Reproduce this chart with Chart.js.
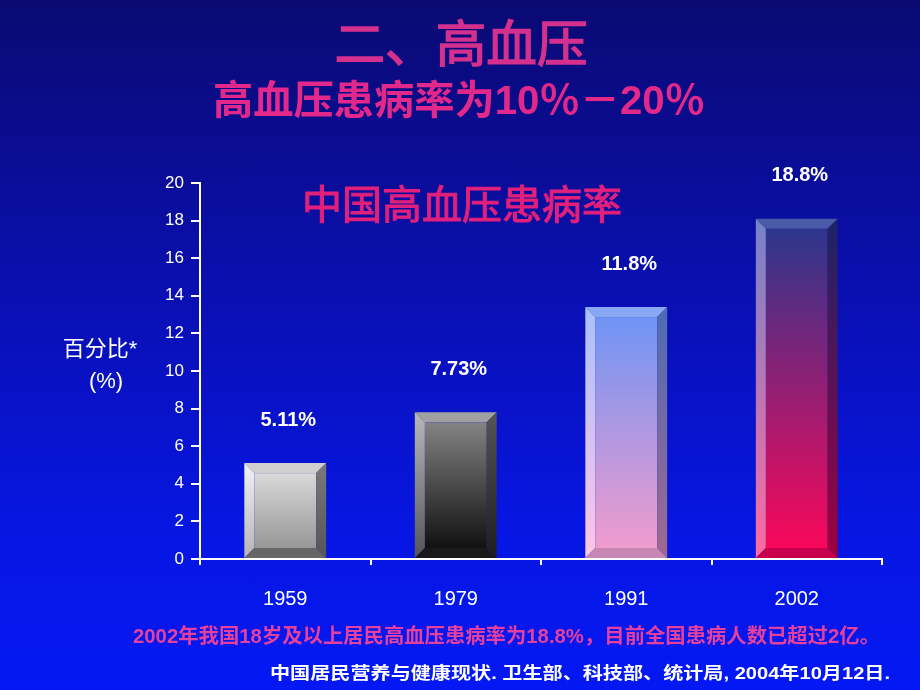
<!DOCTYPE html>
<html><head><meta charset="utf-8">
<script src="https://cdn.jsdelivr.net/npm/chart.js@4/dist/chart.umd.min.js"></script>
<style>
html,body{margin:0;padding:0;}
body{width:920px;height:690px;background:linear-gradient(180deg,#0a0a72 0%,#0a0fae 40%,#0716e0 75%,#0418f4 100%);overflow:hidden;}
canvas{display:block;}
</style></head>
<body><canvas id="c" width="920" height="690"></canvas>
<script>
// ---- data ----
const years = ["1959", "1979", "1991", "2002"];
const barHeights = [5.1, 7.8, 13.4, 18.1];
const valueLabels = ["5.11%", "7.73%", "11.8%", "18.8%"];
const yMin = 0, yMax = 20, yStep = 2;
const titleText = "二、高血压";
const subtitleText = "高血压患病率为10％－20％";
const innerTitle = "中国高血压患病率";
const yTitleLines = ["百分比*", "(%)"];
const noteText = "2002年我国18岁及以上居民高血压患病率为18.8%，目前全国患病人数已超过2亿。";
const sourceText = "中国居民营养与健康现状. 卫生部、科技部、统计局, 2004年10月12日.";

// ---- styles ----
const FONT = '"Liberation Sans", Arial, "Noto Sans CJK SC", sans-serif';
const barStyles = [
  {faceTop:"#e2e2e2", faceBot:"#8e8e8e", top:"#cfcfcf", leftTop:"#f2f2f2", leftBot:"#b4b4b4", rightTop:"#7a7a7a", rightBot:"#555555", bottom:"#666666"},
  {faceTop:"#8c8c8c", faceBot:"#080808", top:"#a0a0a0", leftTop:"#b8b8b8", leftBot:"#555555", rightTop:"#555555", rightBot:"#1e1e1e", bottom:"#1a1a1a"},
  {faceTop:"#6a94f6", faceBot:"#f59ccc", top:"#88a8f4", leftTop:"#a8c0ff", leftBot:"#ffc4e2", rightTop:"#4c6cb4", rightBot:"#a06890", bottom:"#c886b4"},
  {faceTop:"#26388e", faceBot:"#ff0658", top:"#4a5aa6", leftTop:"#7484c8", leftBot:"#ff6a9e", rightTop:"#1a2468", rightBot:"#a0003e", bottom:"#c8004c"}
];

function poly(ctx, pts, fill){
  ctx.beginPath(); ctx.moveTo(pts[0][0], pts[0][1]);
  for (let i=1;i<pts.length;i++) ctx.lineTo(pts[i][0], pts[i][1]);
  ctx.closePath(); ctx.fillStyle = fill; ctx.fill();
}
function vgrad(ctx, y0, y1, c0, c1){
  const g = ctx.createLinearGradient(0, y0, 0, y1);
  g.addColorStop(0, c0); g.addColorStop(1, c1); return g;
}
function fitText(ctx, text, cx, cy, font, color, width, align, stroke){
  ctx.save(); ctx.font = font; ctx.fillStyle = color; ctx.textBaseline = "middle";
  const w = ctx.measureText(text).width;
  const s = width ? width / w : 1;
  let x0 = align === "left" ? cx : (align === "right" ? cx - w*s : cx - w*s/2);
  ctx.translate(x0, cy); ctx.scale(s, 1); ctx.textAlign = "left";
  ctx.fillText(text, 0, 0);
  if (stroke) { ctx.strokeStyle = color; ctx.lineWidth = stroke; ctx.strokeText(text, 0, 0); }
  ctx.restore();
}

const bevelPlugin = {
  id: "bevel",
  afterDatasetsDraw(chart){
    const ctx = chart.ctx;
    const meta = chart.getDatasetMeta(0);
    meta.data.forEach((bar, i) => {
      const st = barStyles[i];
      const {x, y, base, width} = bar.getProps(["x","y","base","width"], true);
      const L = x - width/2, R = x + width/2, T = y, B = base, b = 10;
      ctx.save();
      ctx.fillStyle = vgrad(ctx, T, B, st.faceTop, st.faceBot);
      ctx.fillRect(L+b, T+b, width-2*b, B-T-2*b);
      poly(ctx, [[L,T],[R,T],[R-b,T+b],[L+b,T+b]], st.top);
      poly(ctx, [[L,T],[L+b,T+b],[L+b,B-b],[L,B]], vgrad(ctx, T, B, st.leftTop, st.leftBot));
      poly(ctx, [[R,T],[R,B],[R-b,B-b],[R-b,T+b]], vgrad(ctx, T, B, st.rightTop, st.rightBot));
      poly(ctx, [[L,B],[L+b,B-b],[R-b,B-b],[R,B]], st.bottom);
      ctx.restore();
      // value label
      fitText(ctx, valueLabels[i], x + 3, T - 43, "bold 20px " + FONT, "#ffffff");
    });
  }
};

const textPlugin = {
  id: "texts",
  afterDraw(chart){
    const ctx = chart.ctx;
    fitText(ctx, titleText, 461, 48, "50px " + FONT, "#d4308e", 253, null, 1.4);
    fitText(ctx, subtitleText, 459, 103, "bold 40px " + FONT, "#e2288a", 492);
    fitText(ctx, innerTitle, 462, 208, "40px " + FONT, "#e2207c", 320, null, 1);
    fitText(ctx, yTitleLines[0], 100, 350, "22px " + FONT, "#ffffff");
    fitText(ctx, yTitleLines[1], 106, 382, "22px " + FONT, "#ffffff");
    fitText(ctx, noteText, 133, 637, "bold 20px " + FONT, "#e4409e", 747, "left");
    fitText(ctx, sourceText, 890, 674, "bold 17px " + FONT, "#ffffff", 620, "right");
  }
};

new Chart(document.getElementById("c"), {
  type: "bar",
  data: {
    labels: years,
    datasets: [{ data: barHeights, backgroundColor: "rgba(0,0,0,0)", borderWidth: 0,
      barPercentage: 0.48, categoryPercentage: 1.0 }]
  },
  options: {
    responsive: false, animation: false, devicePixelRatio: 1,
    layout: { padding: { top: 183, right: 38, left: 0, bottom: 0 } },
    plugins: { legend: { display: false }, tooltip: { enabled: false }, title: { display: false } },
    scales: {
      x: {
        offset: true,
        grid: { offset: true, drawOnChartArea: false, drawTicks: true, tickLength: 6, color: "#ffffff", lineWidth: 2 },
        border: { display: true, color: "#ffffff", width: 2 },
        ticks: { color: "#ffffff", font: { size: 20, family: FONT }, padding: 22 },
        afterFit(s){ s.height = 131; }
      },
      y: {
        min: yMin, max: yMax,
        grid: { drawOnChartArea: false, drawTicks: true, tickLength: 9, color: "#ffffff", lineWidth: 2 },
        border: { display: true, color: "#ffffff", width: 2 },
        ticks: { stepSize: yStep, color: "#ffffff", font: { size: 17, family: FONT }, padding: 7 },
        afterFit(s){ s.width = 200; }
      }
    }
  },
  plugins: [bevelPlugin, textPlugin]
});
</script>
</body></html>
